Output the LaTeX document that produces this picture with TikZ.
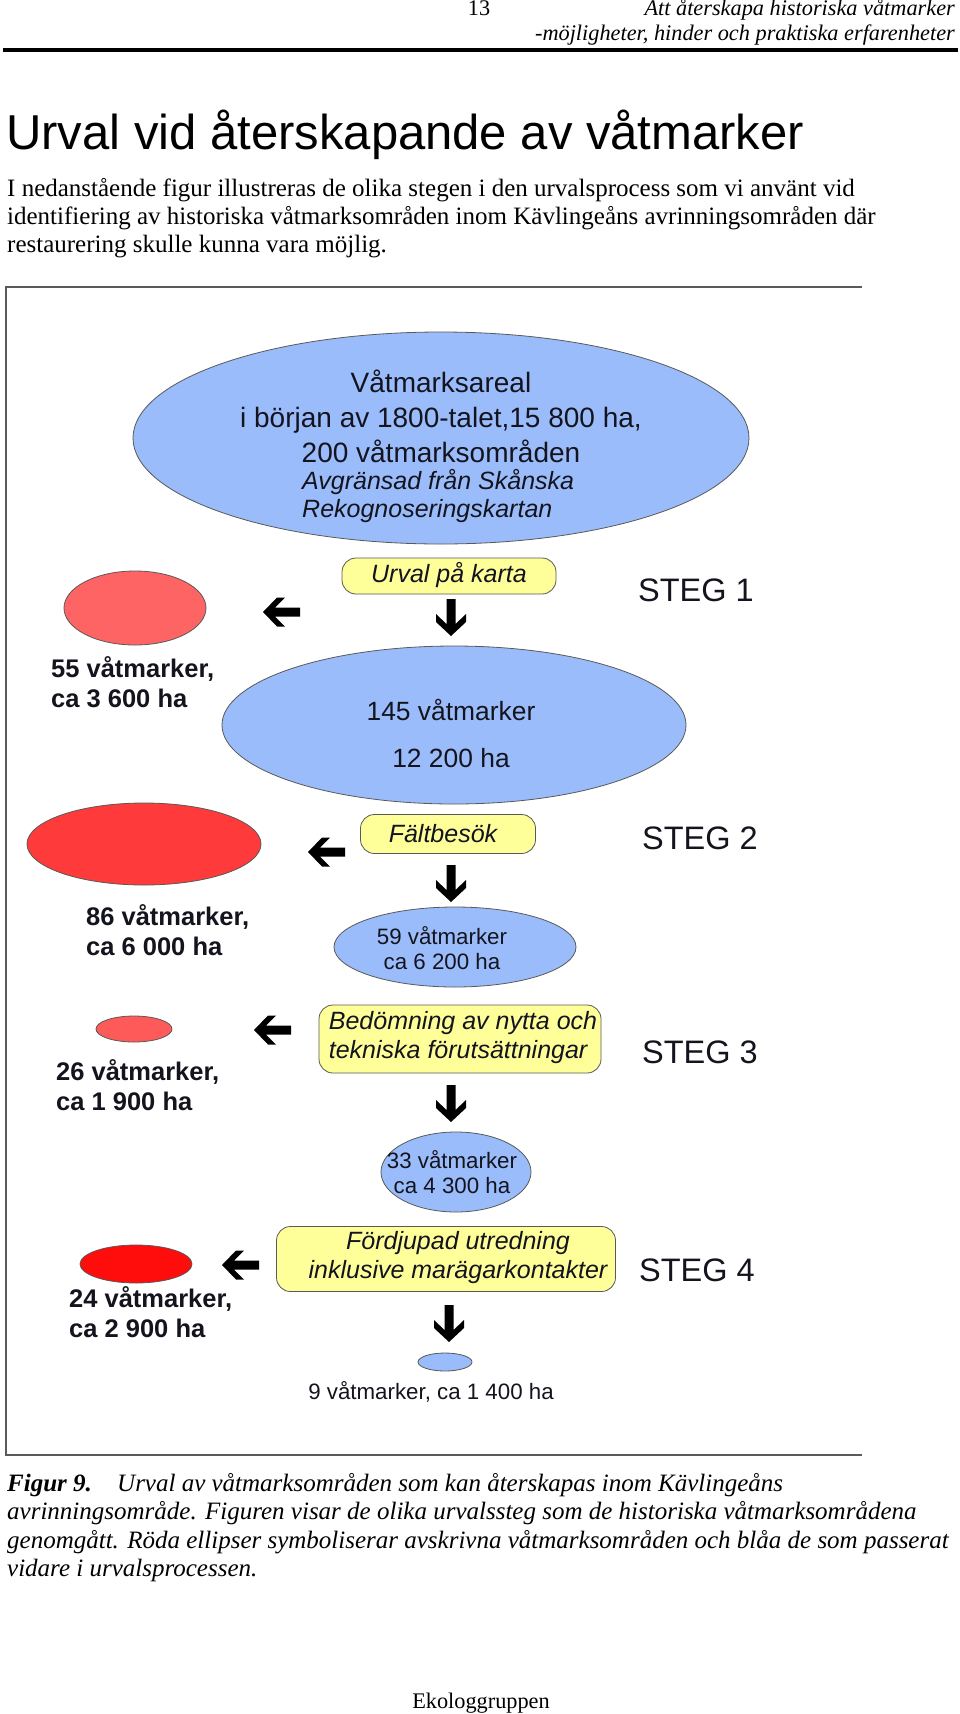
\documentclass[tikz,border=0pt]{standalone}
\usepackage{fontspec}
\setmainfont{Liberation Serif}
\newfontfamily\arial{Liberation Sans}
\usetikzlibrary{shapes.geometric}
\definecolor{blueE}{RGB}{155,188,250}
\definecolor{redA}{RGB}{255,100,100}
\definecolor{redB}{RGB}{255,58,58}
\definecolor{redC}{RGB}{255,90,90}
\definecolor{redD}{RGB}{255,12,12}
\definecolor{yelB}{RGB}{255,255,153}
\definecolor{frameC}{RGB}{90,90,90}
\definecolor{inkC}{RGB}{20,20,30}
\tikzset{
  pics/larr/.style={code={\fill[black] (0,0) -- (14,-14.5) -- (22,-14.5) -- (12,-4.5) -- (37,-4.5) -- (37,4.5) -- (12,4.5) -- (22,14.5) -- (14,14.5) -- cycle;}},
  pics/darr/.style={code={\fill[black] (0,0) -- (-15,-14) -- (-15,-22) -- (-4.5,-12) -- (-4.5,-37) -- (4.5,-37) -- (4.5,-12) -- (15,-22) -- (15,-14) -- cycle;}},
  blueell/.style={ellipse, draw=black!65, line width=0.8pt, fill=blueE, inner sep=0pt},
  redell/.style={ellipse, draw=black!65, line width=0.8pt, inner sep=0pt},
  ybox/.style={rectangle, rounded corners=14pt, draw=black!65, line width=0.8pt, fill=yelB, inner sep=0pt},
  body/.style={inner sep=0pt, anchor=base west, font=\fontsize{25}{28}\selectfont},
  capt/.style={inner sep=0pt, anchor=base west, font=\itshape\fontsize{25}{28}\selectfont},
  hdr/.style={inner sep=0pt, font=\itshape\fontsize{22.3}{26}\selectfont},
  dtxt/.style={inner sep=0pt, text=inkC, align=center, font=\arial\fontsize{25}{29}\selectfont},
  stegtxt/.style={inner sep=0pt, anchor=west, text=inkC, font=\arial\fontsize{32.5}{36}\selectfont},
  redlab/.style={inner sep=0pt, anchor=west, text=inkC, align=left, font=\arial\bfseries\fontsize{25.5}{30}\selectfont},
  smalltxt/.style={inner sep=0pt, text=inkC, align=center, font=\arial\fontsize{22.3}{25.5}\selectfont},
}
\begin{document}
\begin{tikzpicture}[x=1pt,y=-1pt]
\useasboundingbox[fill=white] (0,0) rectangle (960,1714);

% header
\node[hdr, anchor=base] (pnum) at (479,15) {\upshape 13};
\node[hdr, anchor=base east] (hd1) at (955,15) {Att återskapa historiska våtmarker};
\node[hdr, anchor=base east] (hd2) at (955,40) {-möjligheter, hinder och praktiska erfarenheter};
\coordinate (ruleL) at (3,50);
\coordinate (ruleR) at (958,50);
\draw[line width=3.2pt, black] (ruleL) -- (ruleR);

% title and paragraph
\node[inner sep=0pt, anchor=base west, font=\arial\fontsize{49}{55}\selectfont] (title) at (6,149) {Urval vid återskapande av våtmarker};
\node[body] (p1) at (7,196) {I nedanstående figur illustreras de olika stegen i den urvalsprocess som vi använt vid};
\node[body] (p2) at (7,224) {identifiering av historiska våtmarksområden inom Kävlingeåns avrinningsområden där};
\node[body] (p3) at (7,252) {restaurering skulle kunna vara möjlig.};

% figure frame
\coordinate (fTR) at (862,287);
\coordinate (fTL) at (6,287);
\coordinate (fBL) at (6,1455);
\coordinate (fBR) at (862,1455);
\draw[frameC, line width=1.8pt] (fTR) -- (fTL) -- (fBL) -- (fBR);

% big ellipse
\node[blueell, minimum width=616pt, minimum height=212pt] (big) at (441,438) {};
\node[dtxt, font=\arial\fontsize{28}{35}\selectfont] (bigA) at (441,416) {Våtmarksareal\\i början av 1800-talet,15 800 ha,\\200 våtmarksområden};
\node[dtxt, anchor=west, align=left, font=\arial\itshape\fontsize{25}{28}\selectfont] (bigB) at (302,496) {Avgränsad från Skånska\\Rekognoseringskartan};

% STEG 1
\node[ybox, minimum width=214pt, minimum height=36pt] (urval) at (449,576) {};
\node[dtxt, font=\arial\itshape\fontsize{25}{29}\selectfont] (urvaltxt) at (449,575) {Urval på karta};
\node[stegtxt] (steg1) at (638,590) {STEG 1};
\node[redell, fill=redA, minimum width=142pt, minimum height=74pt] (r1) at (135,608) {};
\pic at (263,612) {larr};
\pic at (451,636) {darr};
\node[redlab] (l1) at (51,682) {55 våtmarker,\\ca 3 600 ha};
\node[blueell, minimum width=464pt, minimum height=158pt] (e145) at (454,725) {};
\node[dtxt, font=\arial\fontsize{26.4}{47}\selectfont] (e145txt) at (451,733) {145 våtmarker\\12 200 ha};

% STEG 2
\node[redell, fill=redB, minimum width=234pt, minimum height=82pt] (r2) at (144,844) {};
\node[ybox, minimum width=175pt, minimum height=39pt] (falt) at (448,834) {};
\node[dtxt, font=\arial\itshape\fontsize{25}{29}\selectfont] (falttxt) at (443,834) {Fältbesök};
\node[stegtxt] (steg2) at (642,838) {STEG 2};
\pic at (308,852) {larr};
\pic at (451,902) {darr};
\node[redlab] (l2) at (86,930) {86 våtmarker,\\ca 6 000 ha};
\node[blueell, minimum width=242pt, minimum height=80pt] (e59) at (455,947) {};
\node[smalltxt] (e59txt) at (442,948) {59 våtmarker\\ca 6 200 ha};

% STEG 3
\node[redell, fill=redC, minimum width=76pt, minimum height=26pt] (r3) at (134,1029) {};
\pic at (254,1030) {larr};
\node[ybox, minimum width=282pt, minimum height=68pt] (bed) at (460,1039) {};
\node[dtxt, align=left, font=\arial\itshape\fontsize{25}{29}\selectfont] (bedtxt) at (463,1038) {Bedömning av nytta och\\tekniska förutsättningar};
\node[stegtxt] (steg3) at (642,1052) {STEG 3};
\node[redlab] (l3) at (56,1085) {26 våtmarker,\\ca 1 900 ha};
\pic at (451,1122) {darr};
\node[blueell, minimum width=150pt, minimum height=80pt] (e33) at (456,1172) {};
\node[smalltxt] (e33txt) at (452,1172) {33 våtmarker\\ca 4 300 ha};

% STEG 4
\node[ybox, minimum width=339pt, minimum height=65pt] (ford) at (446,1259) {};
\node[dtxt, font=\arial\itshape\fontsize{25}{29}\selectfont] (fordtxt) at (458,1258) {Fördjupad utredning\\inklusive marägarkontakter};
\node[stegtxt] (steg4) at (639,1270) {STEG 4};
\node[redell, fill=redD, minimum width=112pt, minimum height=38pt] (r4) at (136,1264) {};
\pic at (222,1265) {larr};
\node[redlab] (l4) at (69,1312) {24 våtmarker,\\ca 2 900 ha};
\pic at (449,1342) {darr};
\node[blueell, minimum width=54pt, minimum height=18pt] (e9) at (445,1362) {};
\node[smalltxt] (e9txt) at (431,1392) {9 våtmarker, ca 1 400 ha};

% caption
\node[capt, font=\bfseries\itshape\fontsize{25}{28}\selectfont] (figlab) at (7,1491) {Figur 9.};
\node[capt] (c1) at (117,1491) {Urval av våtmarksområden som kan återskapas inom Kävlingeåns};
\node[capt] (c2) at (7,1519.5) {avrinningsområde. Figuren visar de olika urvalssteg som de historiska våtmarksområdena};
\node[capt] (c3) at (7,1548) {genomgått. Röda ellipser symboliserar avskrivna våtmarksområden och blåa de som passerat};
\node[capt] (c4) at (7,1576.5) {vidare i urvalsprocessen.};

\node[inner sep=0pt, anchor=base, font=\fontsize{22.3}{26}\selectfont] (foot) at (481,1708) {Ekologgruppen};
\end{tikzpicture}
\end{document}
